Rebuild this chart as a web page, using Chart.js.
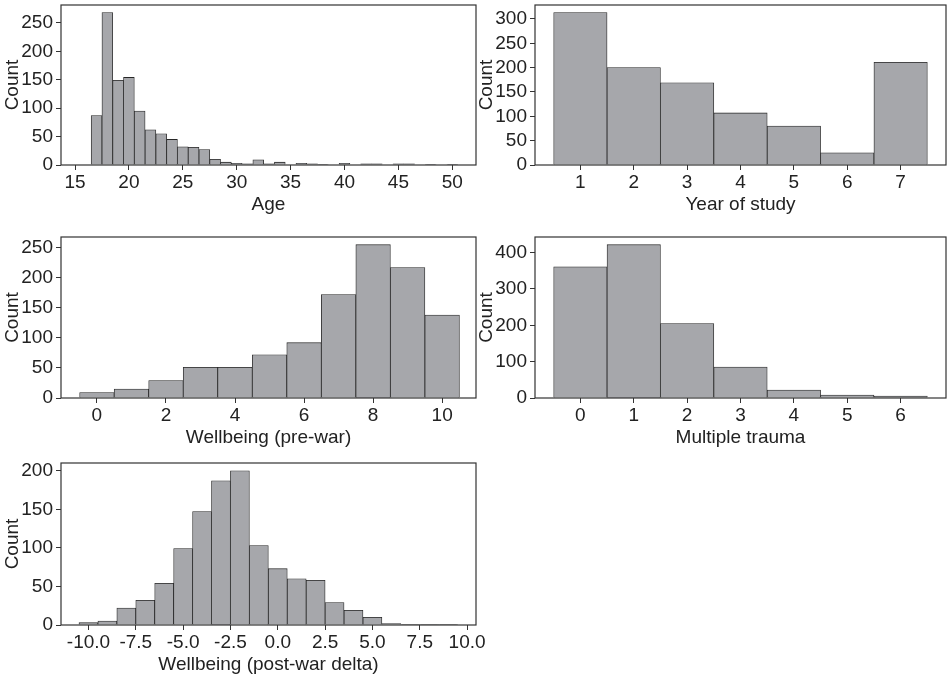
<!DOCTYPE html>
<html>
<head>
<meta charset="utf-8">
<script src="https://cdn.jsdelivr.net/npm/chart.js@4.4.1/dist/chart.umd.min.js"></script>
<style>
  body { margin: 0; background: #fff; width: 950px; height: 680px; position: relative; overflow: hidden; }
  canvas { position: absolute; }
</style>
</head>
<body>
<canvas id="age" width="480" height="225" style="left:0;top:0"></canvas>
<canvas id="year" width="476" height="225" style="left:474px;top:0"></canvas>
<canvas id="pre" width="480" height="228" style="left:0;top:230px"></canvas>
<canvas id="trauma" width="476" height="228" style="left:474px;top:230px"></canvas>
<canvas id="delta" width="495" height="230" style="left:0;top:455px"></canvas>
<script>
// histogram data (bin centres + counts)
const ageBins = [17,18,19,20,21,22,23,24,25,26,27,28,29,30,31,32,33,34,35,36,37,38,39,40,41,42,43,44,45,46,47,48,49,50];
const ageCounts = [87,268,149,154,95,62,55,45,32,31,27,10,5,3,2,9,2,5,0,3,2,1,0,3,0,2,2,0,2,2,0,1,0,1];
const ageTicks = [15,20,25,30,35,40,45,50];

const yearBins = [1,2,3,4,5,6,7];
const yearCounts = [313,200,169,107,80,25,211];
const yearTicks = [1,2,3,4,5,6,7];

const preBins = [0,1,2,3,4,5,6,7,8,9,10];
const preCounts = [9,15,29,51,51,72,92,172,255,217,138];
const preTicks = [0,2,4,6,8,10];

const traumaBins = [0,1,2,3,4,5,6];
const traumaCounts = [361,422,205,85,22,8,5];
const traumaTicks = [0,1,2,3,4,5,6];

const deltaBins = [-10,-9,-8,-7,-6,-5,-4,-3,-2,-1,0,1,2,3,4,5,6,7,8,9];
const deltaCounts = [3,5,22,32,54,99,147,187,200,103,73,60,58,29,19,10,2,1,1,1];
const deltaTicks = [-10,-7.5,-5,-2.5,0,2.5,5,7.5,10];

const FONT = "'Liberation Sans Narrow', 'Arial Narrow', 'Liberation Sans', sans-serif";
const TXT = '#222';
const AX = '#333';
const BAR = '#a6a7ab';
const EDGE = '#262626';

// draw the full box around the plot area
const frame = {
  id: 'frame',
  afterDraw(chart) {
    const a = chart.chartArea, ctx = chart.ctx;
    ctx.save();
    ctx.strokeStyle = AX;
    ctx.lineWidth = 1.2;
    ctx.strokeRect(a.left, a.top, a.right - a.left, a.bottom - a.top);
    ctx.restore();
  }
};

function hist(id, bins, counts, o) {
  const font = { family: FONT, size: 19 };
  new Chart(document.getElementById(id), {
    type: 'bar',
    data: {
      datasets: [{
        data: bins.map((b, i) => ({ x: b, y: counts[i] })),
        backgroundColor: BAR,
        borderColor: EDGE,
        borderWidth: 0.8,
        borderSkipped: 'start',
        barPercentage: 1,
        categoryPercentage: 1
      }]
    },
    options: {
      responsive: false,
      animation: false,
      events: [],
      layout: { padding: { top: o.top, right: o.right, left: 0, bottom: 0 } },
      plugins: { legend: { display: false }, tooltip: { enabled: false } },
      scales: {
        x: {
          type: 'linear',
          min: o.xMin,
          max: o.xMax,
          offset: false,
          border: { display: false },
          grid: { offset: false, drawOnChartArea: false, drawTicks: true, tickLength: 5, tickColor: AX, tickWidth: 1 },
          ticks: { font: font, color: TXT, padding: 1, maxRotation: 0, autoSkip: false,
                   callback: o.fmt || (v => v) },
          afterBuildTicks: s => { s.ticks = o.xTicks.map(v => ({ value: v })); },
          afterFit: s => { s.height = 60; s.paddingLeft = 0; s.paddingRight = 0; },
          title: { display: true, text: o.xTitle, font: font, color: TXT, padding: { top: 0, bottom: 9 } }
        },
        y: {
          min: 0,
          max: Math.max(...counts) * 1.05,
          border: { display: false },
          grid: { drawOnChartArea: false, drawTicks: true, tickLength: 5, tickColor: AX, tickWidth: 1 },
          ticks: { font: font, color: TXT, padding: 3, autoSkip: false },
          afterBuildTicks: s => { s.ticks = o.yTicks.map(v => ({ value: v })); },
          afterFit: s => { s.width = 61; s.paddingTop = 0; s.paddingBottom = 0; },
          title: { display: true, text: 'Count', font: font, color: TXT, padding: { top: 1, bottom: 0 } }
        }
      }
    },
    plugins: [frame]
  });
}

hist('age', ageBins, ageCounts, {
  top: 5, right: 4, xMin: 13.7, xMax: 52.2, xTicks: ageTicks,
  yTicks: [0, 50, 100, 150, 200, 250], xTitle: 'Age'
});
hist('year', yearBins, yearCounts, {
  top: 5, right: 4, xMin: 0.15, xMax: 7.85, xTicks: yearTicks,
  yTicks: [0, 50, 100, 150, 200, 250, 300], xTitle: 'Year of study'
});
hist('pre', preBins, preCounts, {
  top: 7, right: 4, xMin: -1.04, xMax: 10.98, xTicks: preTicks,
  yTicks: [0, 50, 100, 150, 200, 250], xTitle: 'Wellbeing (pre-war)'
});
hist('trauma', traumaBins, traumaCounts, {
  top: 7, right: 4, xMin: -0.85, xMax: 6.85, xTicks: traumaTicks,
  yTicks: [0, 100, 200, 300, 400], xTitle: 'Multiple trauma'
});
hist('delta', deltaBins, deltaCounts, {
  top: 8, right: 19, xMin: -11.45, xMax: 10.47, xTicks: deltaTicks,
  yTicks: [0, 50, 100, 150, 200], xTitle: 'Wellbeing (post-war delta)',
  fmt: v => v.toFixed(1)
});
</script>
</body>
</html>
